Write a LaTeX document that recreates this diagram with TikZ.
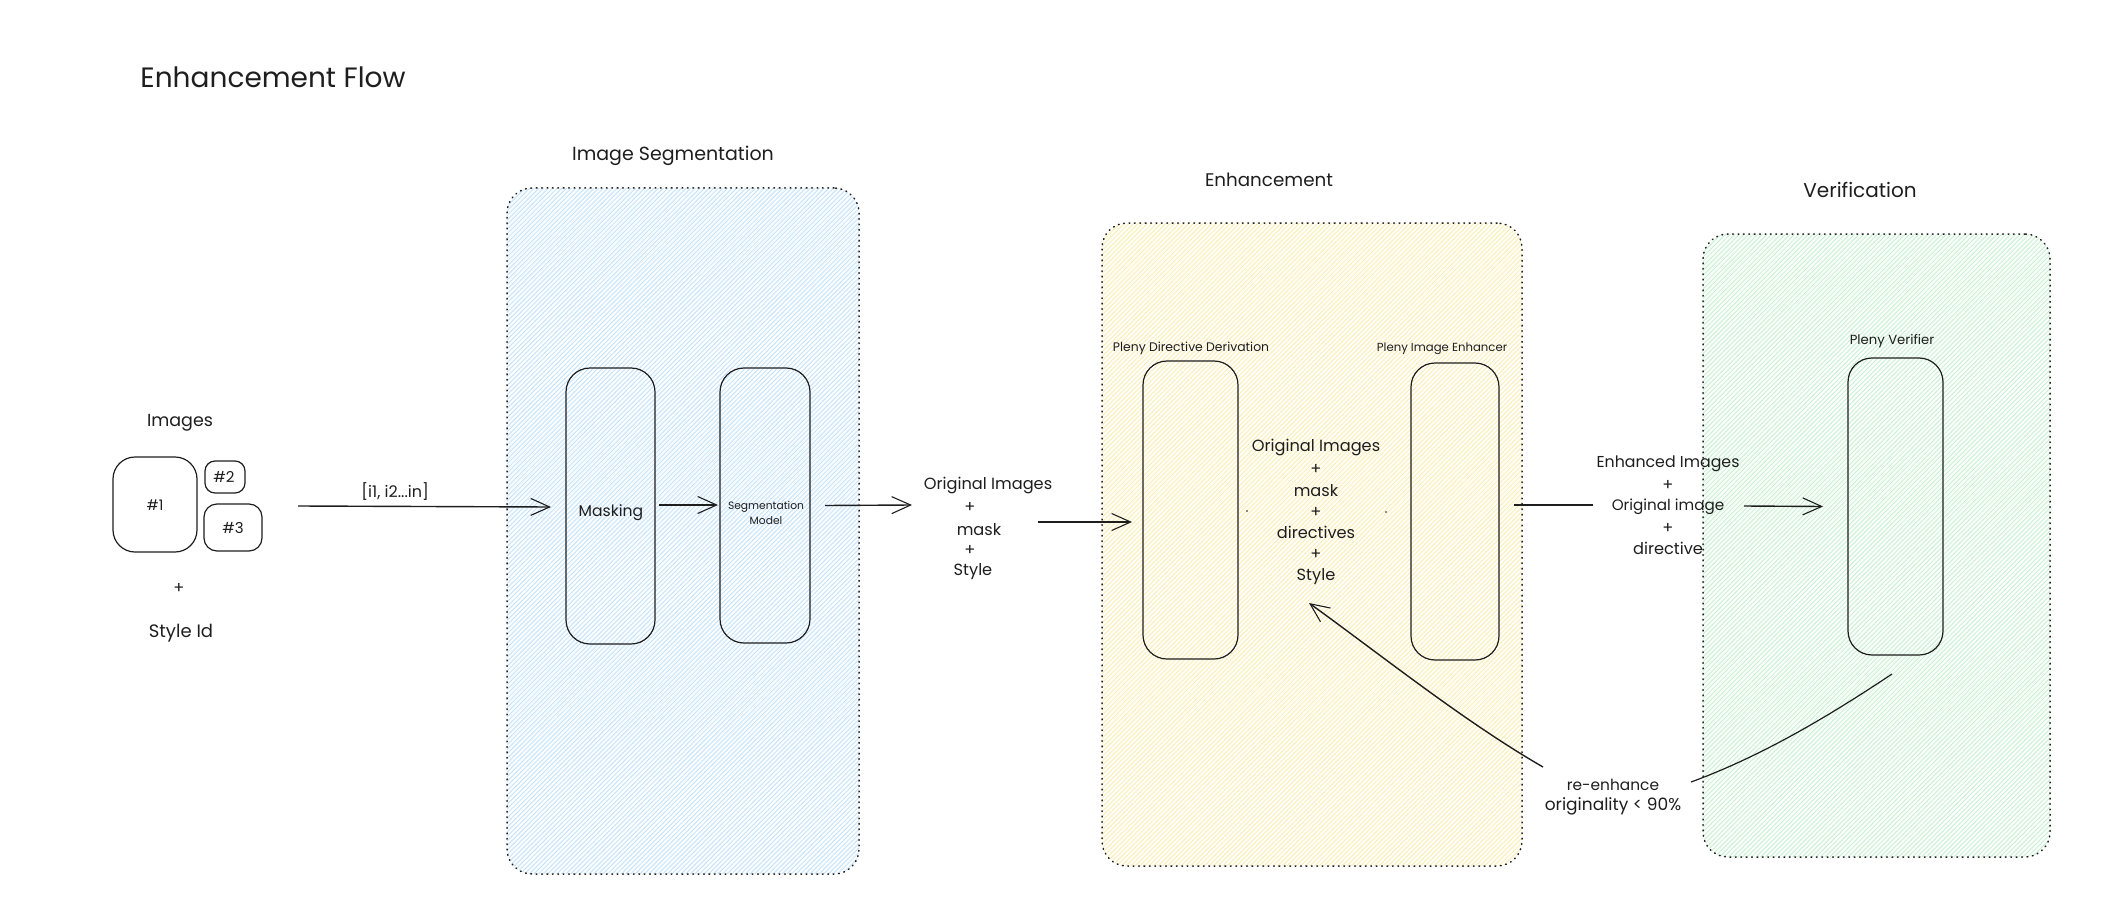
\documentclass[tikz,border=0pt]{standalone}
\usepackage{fontspec}
\setmainfont{Poppins}
\usetikzlibrary{arrows.meta}
\definecolor{ink}{HTML}{1E1E1E}
\definecolor{hblue}{HTML}{C4E2FC}
\definecolor{hyellow}{HTML}{FCEDB4}
\definecolor{hgreen}{HTML}{C8F0D0}
\newcommand{\fs}[1]{\fontsize{#1}{#1}\selectfont}
\newcommand{\hatchpanel}[5]{%
\begin{scope}
\clip[rounded corners=25pt] (#1,#2) rectangle (#3,#4);
\pgfmathsetmacro{\hgt}{#4-#2}
\pgfmathsetmacro{\nn}{int((#3-#1+#4-#2)/4.6)+4}
\foreach \k in {0,...,\nn}{
 \pgfmathsetmacro{\xa}{#1-\hgt+4.6*\k}
 \draw[#5,line width=0.85pt] (\xa,#4) -- ++(\hgt,-\hgt);
 \draw[#5,line width=0.6pt,opacity=0.3] (\xa-6,#4) -- ++(\hgt+14,-\hgt);
}
\end{scope}}
\tikzset{
 x=1pt,y=-1pt,
 panel/.style={draw=ink,line width=1.5pt,line cap=round,dash pattern=on 0.8pt off 4.6pt,rounded corners=25pt,inner sep=0pt,outer sep=0pt},
 box/.style={draw=ink,line width=1.2pt,rounded corners=24pt,inner sep=0pt,outer sep=0pt},
 arr/.style={draw=ink,line width=1.4pt,-{Straight Barb[length=19pt,width=17pt,line width=1.1pt]}},
 plain/.style={draw=ink,line width=1.2pt},
 txt/.style={text=ink,inner sep=0pt,yshift=-2pt,font=\fs{16.2}},
 small/.style={text=ink,inner sep=0pt,yshift=-1pt,font=\fs{12}},
 head/.style={text=ink,inner sep=0pt,yshift=-2pt,font=\fs{19}},
}
\begin{document}
\begin{tikzpicture}
\useasboundingbox (0,0) rectangle (2122,920);
% hatching
\hatchpanel{507}{188}{859}{874}{hblue}
\hatchpanel{1102}{223}{1522}{866}{hyellow}
\hatchpanel{1703}{234}{2050}{857}{hgreen}
% panels
\node[panel,minimum width=352pt,minimum height=686pt] (pseg) at (683,531) {};
\node[panel,minimum width=420pt,minimum height=643pt] (penh) at (1312,544.5) {};
\node[panel,minimum width=347pt,minimum height=623pt] (pver) at (1876.5,545.5) {};
% titles
\node[text=ink,inner sep=0pt,font=\fs{28}] (title) at (273,77) {Enhancement Flow};
\node[head,font=\fs{19}] (tseg) at (673,154) {Image Segmentation};
\node[head,font=\fs{18.3}] (tenh) at (1269,178) {Enhancement};
\node[head,font=\fs{20}] (tver) at (1860,188) {Verification};
% images
\node[txt,font=\fs{17.5}] (timg) at (180,421) {Images};
\node[box,rounded corners=22pt,minimum width=84pt,minimum height=95pt] (i1) at (155,504.5) {};
\node[box,rounded corners=10pt,minimum width=40pt,minimum height=32pt] (i2) at (225,477) {};
\node[box,rounded corners=13pt,minimum width=58pt,minimum height=47pt] (i3) at (233,527.5) {};
\node[small,font=\fs{14.5}] (l1) at (155,504) {\#1};
\node[small,font=\fs{15}] (l2) at (224,476) {\#2};
\node[small,font=\fs{15}] (l3) at (233,527) {\#3};
\node[txt] (pl0) at (179,586) {+};
\node[txt,font=\fs{18}] (tstyle) at (181,631) {Style Id};
% segmentation boxes
\node[box,minimum width=89pt,minimum height=276pt] (masking) at (610.5,506) {};
\node[box,minimum width=90pt,minimum height=275pt] (segm) at (765,505.5) {};
\node[txt,font=\fs{15.6}] (tmask) at (611,511) {Masking};
\node[text=ink,inner sep=0pt,align=center,font=\fontsize{10.7}{15}\selectfont] (tsegm) at (766,513) {Segmentation\\Model};
% input arrow
\coordinate (start) at (298,506);
\draw[arr] (start) -- ([xshift=-15pt,yshift=-1pt]masking.west) node[pos=0.384,above=5pt,text=ink,inner sep=0pt,font=\fs{16}] (range) {[i1, i2...in]};
\draw[arr] ([xshift=4pt,yshift=1pt]masking.east) -- ([xshift=-2pt,yshift=0.5pt]segm.west);
% original images group
\node[txt] (o1) at (988,484) {Original Images};
\node[txt] (o2) at (970,505) {+};
\node[txt] (o3) at (979,528) {mask};
\node[txt] (o4) at (970,548) {+};
\node[txt] (o5) at (973,570) {Style};
\coordinate (segend) at (912,505);
\draw[arr] ([xshift=15pt]segm.east) -- (segend);
\coordinate (origout) at (1038,522);
% enhancement boxes
\node[box,minimum width=95pt,minimum height=298pt] (deriv) at (1190.5,510) {};
\node[box,minimum width=88pt,minimum height=297pt] (enhancer) at (1455,511.5) {};
\node[small,font=\fs{12.4}] (tderiv) at (1191,347) {Pleny Directive Derivation};
\node[small,font=\fs{11.7}] (tenhancer) at (1442,348) {Pleny Image Enhancer};
\draw[arr] (origout) -- ([xshift=-11pt,yshift=-12pt]deriv.west);
\node[txt] (m1) at (1316,446) {Original Images};
\node[txt] (m2) at (1316,467) {+};
\node[txt] (m3) at (1316,489) {mask};
\node[txt] (m4) at (1316,510) {+};
\node[txt] (m5) at (1316,530) {directives};
\node[txt] (m6) at (1316,552) {+};
\node[txt] (m7) at (1316,575) {Style};
\fill[ink] (1247,511) circle (0.9pt) (1386,512) circle (0.9pt);
% verifier
\node[box,minimum width=95pt,minimum height=297pt] (verifier) at (1895.5,506.5) {};
\node[small,font=\fs{13.2}] (tverifier) at (1892,340) {Pleny Verifier};
% enhanced group
\node[txt,font=\fs{15.8}] (e1) at (1668,462) {Enhanced Images};
\node[txt] (e2) at (1668,483) {+};
\node[txt,font=\fs{15.2}] (e3) at (1668,505) {Original image};
\node[txt] (e4) at (1668,526) {+};
\node[txt] (e5) at (1668,546) {directive};
\coordinate (enhout) at (1593,505);
\coordinate (verin) at (1744,506);
\draw[plain] ([xshift=15pt,yshift=6.5pt]enhancer.east) -- (enhout);
\draw[arr] (verin) -- ([xshift=-25pt]verifier.west);
% feedback
\node[txt,font=\fs{15.4}] (r1) at (1613,783) {re-enhance};
\node[txt,font=\fs{17}] (r2) at (1613,804) {originality < 90\%};
\coordinate (fbtop) at (1892,674);
\coordinate (fbtxtr) at (1691,782);
\coordinate (fbtxtl) at (1543,767);
\coordinate (fbtip) at (1309,603);
\draw[plain] (fbtop) .. controls (1835,712) and (1765,755) .. (fbtxtr);
\draw[arr] (fbtxtl) .. controls (1465,722) and (1385,658) .. (fbtip);
\end{tikzpicture}
\end{document}
